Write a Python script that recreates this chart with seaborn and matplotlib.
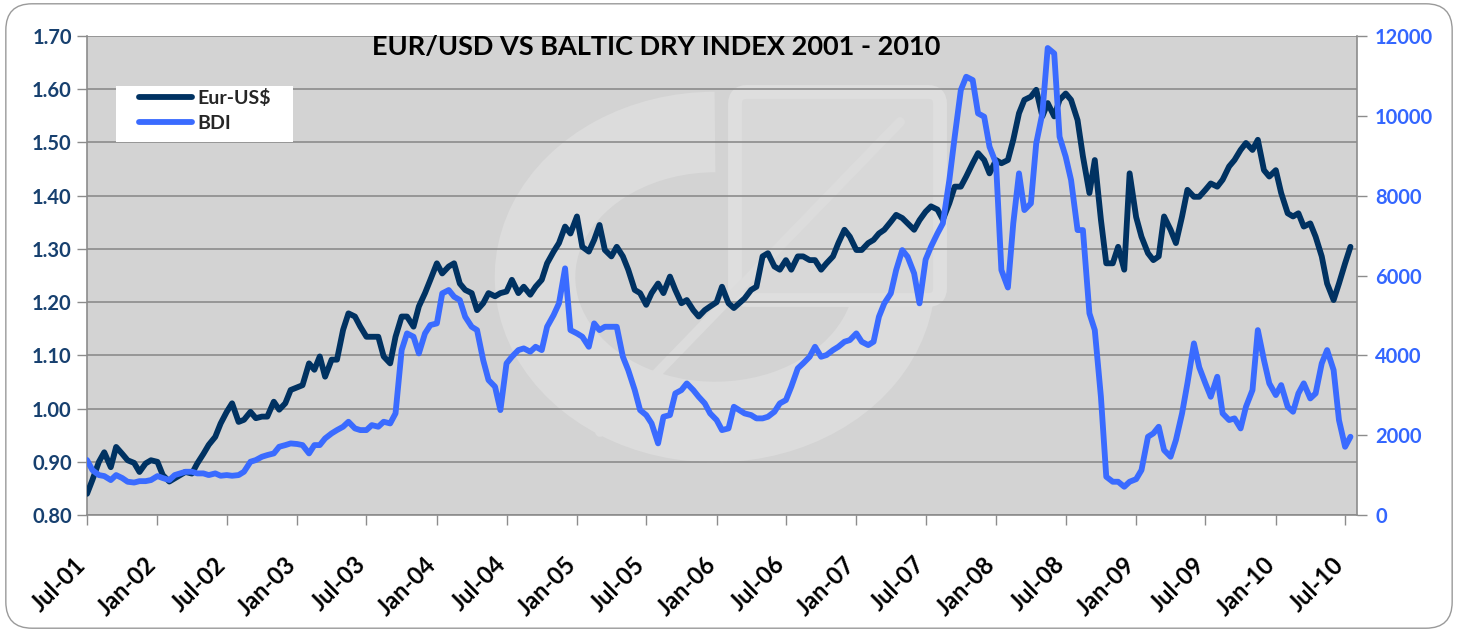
import matplotlib
matplotlib.use("Agg")
import matplotlib.dates as mdates
import matplotlib.patches as mpatches
import matplotlib.pyplot as plt
import matplotlib.transforms as mtransforms
import pandas as pd
import seaborn as sns
from matplotlib.lines import Line2D
from matplotlib.ticker import FormatStrFormatter, MultipleLocator

# semi-monthly readings (1st and 15th), starting Jul 2001
START = "2001-07-01"

eur_usd = [
    0.840, 0.866, 0.900, 0.918, 0.890, 0.928, 0.915, 0.903, 0.898, 0.881,
    0.897, 0.903, 0.900, 0.875, 0.863, 0.869, 0.875, 0.881, 0.878, 0.897,
    0.915, 0.932, 0.947, 0.972, 0.994, 1.010, 0.975, 0.979, 0.994, 0.982,
    0.985, 0.985, 1.013, 0.998, 1.010, 1.035, 1.040, 1.044, 1.085, 1.073,
    1.098, 1.060, 1.092, 1.092, 1.148, 1.179, 1.173, 1.154, 1.135, 1.135,
    1.135, 1.098, 1.085, 1.135, 1.173, 1.173, 1.154, 1.192, 1.217, 1.242,
    1.273, 1.254, 1.267, 1.273, 1.235, 1.223, 1.217, 1.185, 1.198, 1.217,
    1.211, 1.217, 1.220, 1.242, 1.217, 1.229, 1.214, 1.229, 1.242, 1.273,
    1.295, 1.311, 1.342, 1.329, 1.361, 1.304, 1.295, 1.317, 1.345, 1.298,
    1.286, 1.304, 1.286, 1.261, 1.223, 1.217, 1.195, 1.217, 1.235, 1.217,
    1.248, 1.223, 1.198, 1.204, 1.185, 1.173, 1.185, 1.192, 1.200, 1.229,
    1.198, 1.189, 1.198, 1.207, 1.223, 1.229, 1.286, 1.292, 1.267, 1.261,
    1.279, 1.261, 1.286, 1.286, 1.279, 1.279, 1.261, 1.273, 1.286, 1.311,
    1.336, 1.323, 1.298, 1.298, 1.311, 1.317, 1.329, 1.336, 1.351, 1.364,
    1.358, 1.348, 1.336, 1.354, 1.370, 1.380, 1.374, 1.355, 1.386, 1.417,
    1.417, 1.436, 1.461, 1.480, 1.467, 1.442, 1.467, 1.461, 1.467, 1.505,
    1.555, 1.580, 1.586, 1.599, 1.549, 1.574, 1.549, 1.580, 1.592, 1.580,
    1.542, 1.474, 1.405, 1.467, 1.355, 1.273, 1.273, 1.304, 1.261, 1.442,
    1.360, 1.323, 1.292, 1.279, 1.286, 1.361, 1.336, 1.311, 1.361, 1.411,
    1.398, 1.398, 1.411, 1.423, 1.417, 1.430, 1.455, 1.467, 1.486, 1.499,
    1.486, 1.505, 1.448, 1.436, 1.448, 1.405, 1.367, 1.361, 1.367, 1.342,
    1.348, 1.323, 1.286, 1.235, 1.204, 1.235, 1.273, 1.304,
]

bdi = [
    1378, 1127, 1002, 977, 877, 1002, 927, 835, 815, 850,
    850, 877, 977, 927, 877, 1002, 1044, 1085, 1085, 1044,
    1044, 1002, 1044, 985, 1002, 985, 1002, 1085, 1336, 1378,
    1461, 1503, 1545, 1711, 1753, 1795, 1780, 1753, 1545, 1753,
    1753, 1920, 2046, 2129, 2213, 2338, 2171, 2129, 2129, 2254,
    2213, 2338, 2296, 2547, 4133, 4551, 4468, 4050, 4551, 4760,
    4801, 5553, 5637, 5470, 5386, 4968, 4717, 4634, 3883, 3382,
    3215, 2630, 3800, 3966, 4133, 4175, 4092, 4216, 4133, 4717,
    5010, 5303, 6180, 4634, 4551, 4468, 4216, 4802, 4634, 4717,
    4717, 4717, 3966, 3632, 3131, 2630, 2505, 2297, 1796, 2463,
    2505, 3048, 3131, 3298, 3131, 2964, 2797, 2547, 2380, 2129,
    2171, 2713, 2630, 2547, 2505, 2422, 2422, 2463, 2588, 2797,
    2881, 3215, 3675, 3800, 3966, 4216, 3966, 4008, 4133, 4216,
    4342, 4384, 4551, 4342, 4258, 4342, 4968, 5303, 5553, 6137,
    6638, 6471, 6054, 5303, 6400, 6722, 7056, 7307, 8392, 9477,
    10646, 10980, 10897, 10062, 9979, 9226, 8810, 6137, 5700, 7307,
    8559, 7640, 7807, 9311, 10062, 11700, 11564, 9477, 8976, 8392,
    7139, 7139, 5053, 4634, 2964, 960, 835, 835, 710, 835,
    900, 1127, 1962, 2046, 2213, 1628, 1461, 1879, 2547, 3298,
    4301, 3700, 3298, 2964, 3465, 2547, 2380, 2422, 2171, 2713,
    3131, 4634, 3883, 3298, 3006, 3256, 2713, 2588, 3048, 3300,
    2922, 3048, 3800, 4133, 3632, 2380, 1711, 1962,
]

TITLE = "EUR/USD VS BALTIC DRY INDEX 2001 - 2010"
series_names = ["Eur-US$", "BDI"]

NAVY = "#003262"
BLUE = "#3A6BFF"
GRID = "#8C8C8C"

df = pd.DataFrame({
    "date": pd.date_range(START, periods=len(eur_usd), freq="SMS"),
    "eur": eur_usd,
    "bdi": bdi,
})
tick_dates = pd.date_range("2001-07-01", "2010-07-01", freq="6MS")

sns.set_theme(style="white")
plt.rcParams["font.family"] = ["Lato", "DejaVu Sans"]
plt.rcParams["font.weight"] = "bold"

fig = plt.figure(figsize=(14.58, 6.32), dpi=100)
fig.patch.set_facecolor("white")
inch = fig.dpi_scale_trans

# rounded frame round the whole chart
frame = mpatches.FancyBboxPatch(
    (0.004, 0.006), 0.992, 0.988, transform=fig.transFigure,
    boxstyle="round,pad=0,rounding_size=0.018", mutation_aspect=1458 / 632,
    facecolor="none", edgecolor="#9A9A9A", linewidth=1.0,
)
fig.patches.append(frame)

ax = fig.add_axes([0.0597, 0.185, 0.8710, 0.758])
ax.set_facecolor("#D3D3D3")
ax.set_axisbelow(True)

# faint logo watermark behind the data
ring = mpatches.Arc((7.15, 3.55), 3.6, 2.9, theta1=90, theta2=360,
                    lw=58, color="#DCDCDC", transform=inch, zorder=0.2)
block = mpatches.FancyBboxPatch((7.35, 3.32), 2.05, 2.08, transform=inch,
                                boxstyle="round,pad=0,rounding_size=0.12",
                                facecolor="#D8D8D8", edgecolor="#DEDEDE",
                                lw=10, zorder=0.2)
shaft = Line2D([6.0, 9.0], [2.0, 5.1], lw=7, color="#DCDCDC",
               transform=inch, zorder=0.25)
for p in (ring, block):
    ax.add_patch(p)
    p.set_clip_path(ax.patch)
ax.add_line(shaft)
shaft.set_clip_path(ax.patch)

ax2 = ax.twinx()

sns.lineplot(data=df, x="date", y="eur", ax=ax, color=NAVY, lw=4.2,
             legend=False, zorder=3)
sns.lineplot(data=df, x="date", y="bdi", ax=ax2, color=BLUE, lw=4.2,
             legend=False, zorder=3)

ax.set_xlim(pd.Timestamp("2001-07-01"), pd.Timestamp("2010-08-01"))
ax.set_ylim(0.80, 1.70)
ax2.set_ylim(0, 12000)

ax.yaxis.set_major_locator(MultipleLocator(0.1))
ax.yaxis.set_major_formatter(FormatStrFormatter("%.2f"))
ax2.yaxis.set_major_locator(MultipleLocator(2000))
ax2.yaxis.set_major_formatter(FormatStrFormatter("%d"))

ax.set_xticks(tick_dates)
ax.xaxis.set_major_formatter(mdates.DateFormatter("%b-%y"))

ax.yaxis.grid(True, color=GRID, lw=1.2)
ax.xaxis.grid(False)

ax.tick_params(axis="x", direction="out", length=7, width=1, color=GRID,
               labelsize=17, labelcolor="black", pad=20, bottom=True)
ax.tick_params(axis="y", direction="out", length=7, width=1, color=GRID,
               labelsize=14.5, labelcolor="#17406F", pad=4, left=True)
ax2.tick_params(axis="y", direction="out", length=7, width=1, color=GRID,
                labelsize=14.5, labelcolor="#3366FF", pad=6, right=True)

shift = mtransforms.ScaledTranslation(-0.13, 0, inch)
for lbl in ax.get_xticklabels():
    lbl.set_rotation(45)
    lbl.set_ha("right")
    lbl.set_rotation_mode("anchor")
    lbl.set_transform(lbl.get_transform() + shift)

ax.set_xlabel("")
ax.set_ylabel("")
ax2.set_ylabel("")

for a in (ax, ax2):
    a.spines["top"].set_visible(False)
    for s in ("left", "right", "bottom"):
        a.spines[s].set_color(GRID)
        a.spines[s].set_linewidth(1.2)
ax.spines["right"].set_visible(False)
ax2.spines["left"].set_visible(False)
ax2.spines["bottom"].set_visible(False)

# legend: plain white box, entries placed inside it
legend_box = mpatches.Rectangle((1.16, 4.90), 1.77, 0.56, transform=inch,
                                facecolor="white", edgecolor="none",
                                zorder=9)
ax2.add_patch(legend_box)
legend_box.set_clip_on(False)

handles = [Line2D([], [], color=NAVY, lw=4.2, solid_capstyle="round"),
           Line2D([], [], color=BLUE, lw=4.2, solid_capstyle="round")]
leg = ax2.legend(handles, series_names, loc="upper left",
                 bbox_to_anchor=(1.39, 5.43), bbox_transform=inch,
                 borderaxespad=0, borderpad=0, frameon=False,
                 handlelength=2.75, handletextpad=0.25,
                 labelspacing=0.42, prop={"weight": "bold", "size": 14})
leg.set_zorder(10)

fig.text(0.450, 0.926, TITLE, ha="center", va="center",
         fontsize=19.5, fontweight="bold", color="black")

fig.savefig("out.png", dpi=100)
